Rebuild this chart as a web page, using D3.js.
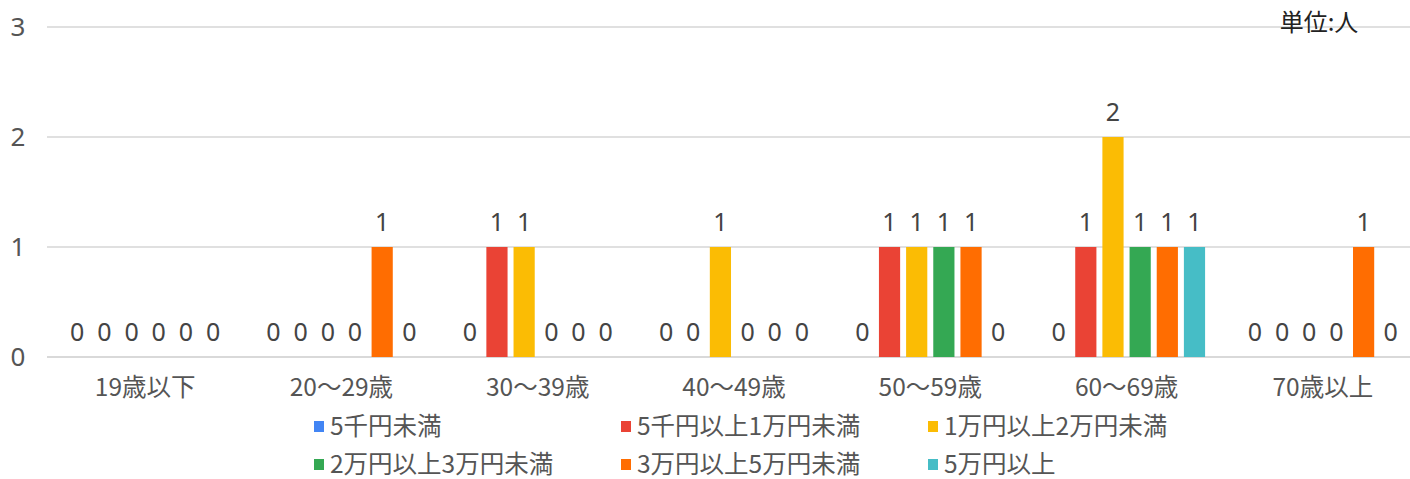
<!DOCTYPE html>
<html><head><meta charset="utf-8">
<script src="https://cdn.jsdelivr.net/npm/d3@7"></script>
<style>
html,body{margin:0;padding:0;background:#fff;}
svg text{font-family:"Noto Sans CJK JP","Noto Sans",sans-serif;}
svg text.num{font-family:"Noto Sans","Noto Sans CJK JP",sans-serif;}
</style>
</head><body>
<svg id="c" width="1410" height="479"></svg>
<script>
const categories = ["19歳以下","20～29歳","30～39歳","40～49歳","50～59歳","60～69歳","70歳以上"];
const seriesNames = ["5千円未満","5千円以上1万円未満","1万円以上2万円未満","2万円以上3万円未満","3万円以上5万円未満","5万円以上"];
const s0 = [0,0,0,0,0,0,0];
const s1 = [0,0,1,0,1,1,0];
const s2 = [0,0,1,1,1,2,0];
const s3 = [0,0,0,0,1,1,0];
const s4 = [0,1,0,0,1,1,1];
const s5 = [0,0,0,0,0,1,0];
const seriesValues = [s0,s1,s2,s3,s4,s5];
const colors = ["#4285F4","#EA4335","#FBBC04","#34A853","#FF6D01","#46BDC6"];
const yTicks = [0,1,2,3];
const unitLabel = "単位:人";

const svg = d3.select("#c");
const pL = 47, pR = 1421, pT = 27, pB = 357;
const x0 = d3.scaleBand().domain(categories).range([pL, pR]).paddingInner(0.2).paddingOuter(0.1);
const x1 = d3.scaleBand().domain(seriesNames).range([0, x0.bandwidth()]).paddingInner(0.22);
const y = d3.scaleLinear().domain([0,3]).range([pB, pT]);

// gridlines
svg.append("g").selectAll("line").data(yTicks).join("line")
  .attr("x1", pL).attr("x2", 1410)
  .attr("y1", d => y(d)).attr("y2", d => y(d))
  .attr("stroke", d => d===0 ? "#d9d9d9" : "#e0e0e0").attr("stroke-width", 2);

// y axis labels
svg.append("g").selectAll("text").data(yTicks).join("text")
  .attr("class", "num")
  .attr("x", 18).attr("y", d => y(d)).attr("dy", "0.36em")
  .attr("text-anchor", "middle").attr("font-size", 26).attr("fill", "#555")
  .text(d => d);

// bars
const groups = svg.append("g").selectAll("g").data(categories).join("g")
  .attr("transform", d => `translate(${x0(d)},0)`);
groups.each(function(cat, ci){
  const g = d3.select(this);
  seriesNames.forEach((sn, si) => {
    const v = seriesValues[si][ci];
    if (v > 0) {
      g.append("rect").attr("x", x1(sn)).attr("width", x1.bandwidth())
        .attr("y", y(v)).attr("height", y(0) - y(v)).attr("fill", colors[si]);
    }
    g.append("text").attr("class", "num")
      .attr("x", x1(sn) + x1.bandwidth()/2).attr("y", y(v) - 16)
      .attr("text-anchor", "middle").attr("font-size", 25).attr("fill", "#444")
      .text(v);
  });
});

// category labels
svg.append("g").selectAll("text").data(categories).join("text")
  .attr("x", d => x0(d) + x0.bandwidth()/2).attr("y", 396)
  .attr("text-anchor", "middle").attr("font-size", 24.5).attr("fill", "#555")
  .text(d => d);

// unit label
svg.append("text").attr("x", 1319).attr("y", 31).attr("text-anchor", "middle")
  .attr("font-size", 24).attr("fill", "#222").text(unitLabel);

// legend
const legX = [314, 621, 928], legY = [426, 464];
const leg = svg.append("g").selectAll("g").data(seriesNames).join("g")
  .attr("transform", (d,i) => `translate(${legX[i%3]},${legY[Math.floor(i/3)]})`);
leg.append("rect").attr("x", 0).attr("y", -5).attr("width", 10).attr("height", 11)
  .attr("fill", (d,i) => colors[i]);
leg.append("text").attr("x", 16).attr("y", 0).attr("dy", "0.36em")
  .attr("font-size", 24.5).attr("fill", "#555").text(d => d);
</script>
</body></html>
